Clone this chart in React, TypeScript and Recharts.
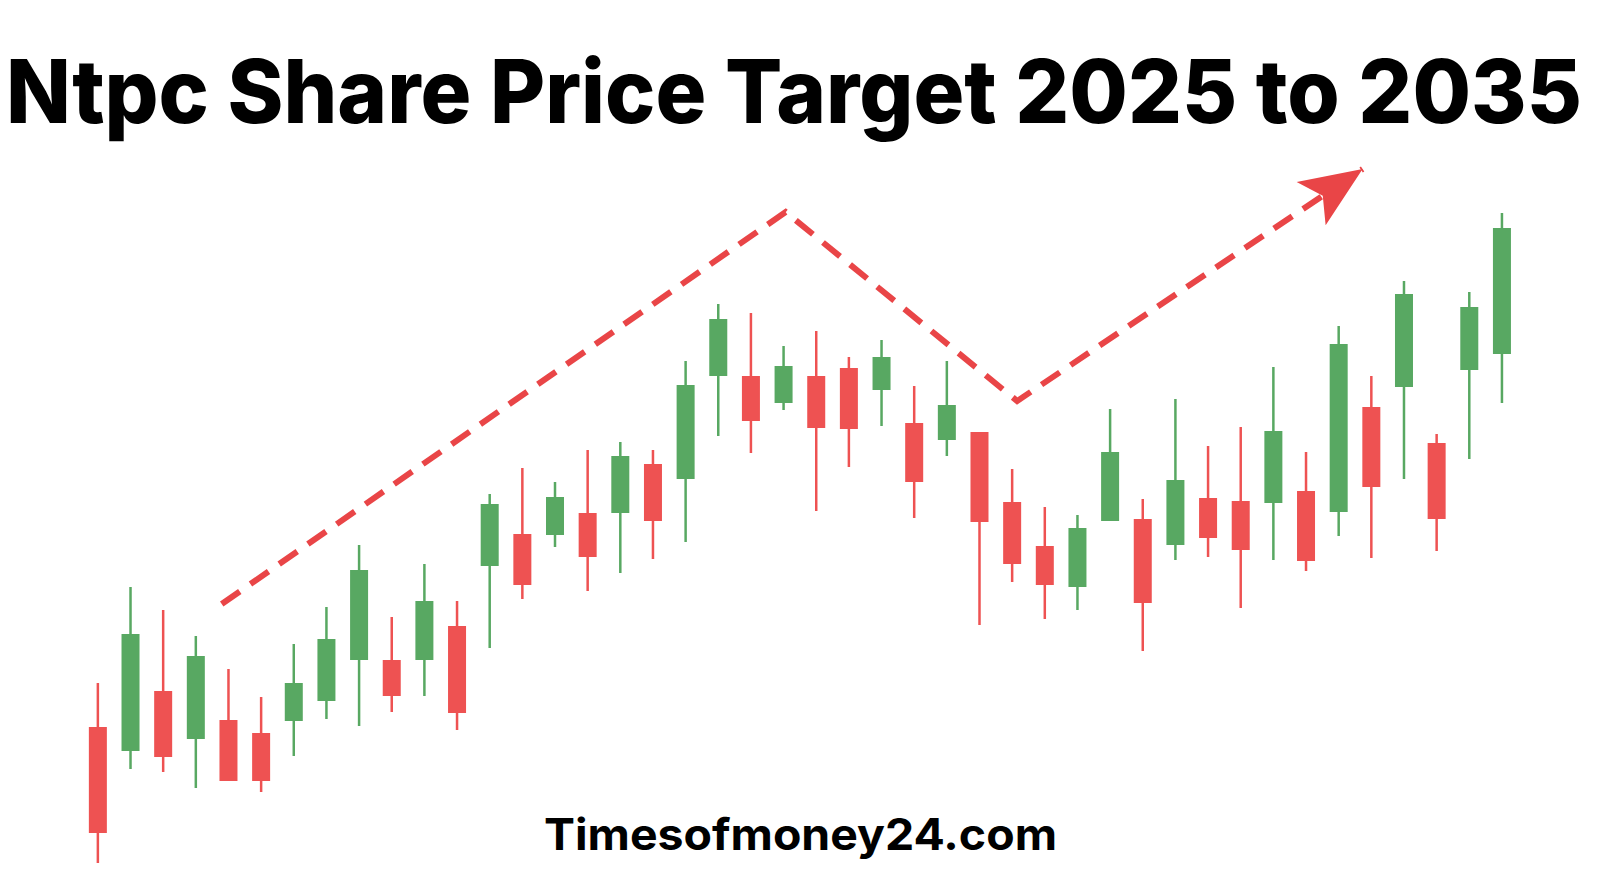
import React from "react";
import { ComposedChart, Bar, Line, XAxis, YAxis } from "recharts";

// candle values (arbitrary price units)
const opens = [173, 149, 209, 161, 180, 167, 179, 199, 240, 240, 240, 274, 334, 366, 365, 387, 387, 436, 421, 524, 524, 497, 524, 532, 510, 477, 460, 468, 398, 354, 313, 379, 381, 355, 402, 399, 397, 409, 388, 493, 513, 457, 530, 546];
const highs = [217, 313, 290, 264, 231, 203, 256, 293, 355, 283, 336, 299, 406, 432, 418, 450, 458, 450, 539, 596, 587, 554, 569, 543, 560, 514, 539, 468, 431, 393, 385, 491, 401, 501, 454, 473, 533, 448, 574, 524, 619, 466, 608, 687];
const lows = [37, 131, 128, 112, 119, 108, 144, 181, 174, 188, 204, 170, 252, 301, 353, 309, 327, 341, 358, 464, 447, 490, 389, 433, 474, 382, 444, 275, 318, 281, 290, 379, 249, 340, 343, 292, 340, 329, 364, 342, 421, 349, 441, 497];
const closes = [67, 266, 143, 244, 119, 119, 217, 261, 330, 204, 299, 187, 396, 315, 403, 343, 444, 379, 515, 581, 479, 534, 472, 471, 543, 418, 495, 378, 336, 315, 372, 448, 297, 420, 362, 350, 469, 339, 556, 413, 606, 381, 593, 672];

// dashed trend arrow (x in candle index units)
const trendI = [3.79, 21.06, 28.15, 38.73];
const trendV = [296, 688, 499, 731];

const TITLE = "Ntpc Share Price Target 2025 to 2035";
const FOOTER = "Timesofmoney24.com";

const GREEN = "#58a862";
const RED = "#ee5252";
const ARROW = "#e94547";
const BODY_W = 18;

const candles = opens.map((o, i) => ({
  i,
  o,
  h: highs[i],
  l: lows[i],
  c: closes[i],
  range: [lows[i], highs[i]],
}));

const trend = trendI.map((i, k) => ({ i, v: trendV[k] }));

const Candle = (props: any) => {
  const { x, y, width, height, index } = props;
  const d = candles[index];
  const top = Math.min(y, y + height);
  const px = Math.abs(height);
  const k = px / (d.h - d.l);
  const yO = top + (d.h - d.o) * k;
  const yC = top + (d.h - d.c) * k;
  const color = d.c >= d.o ? GREEN : RED;
  const cx = x + (width || 0) / 2;
  return (
    <g>
      <line x1={cx} x2={cx} y1={top} y2={top + px} stroke={color} strokeWidth={2.5} />
      <rect
        x={cx - BODY_W / 2}
        y={Math.min(yO, yC)}
        width={BODY_W}
        height={Math.max(Math.abs(yC - yO), 1)}
        fill={color}
      />
    </g>
  );
};

// arrow head on the last point, pointing along the last segment
let prevDot = { x: 0, y: 0 };
const ArrowDot = (p: any) => {
  const { cx, cy, index } = p;
  if (index < trend.length - 1) {
    prevDot = { x: cx, y: cy };
    return <g key={`d${index}`} />;
  }
  const a = Math.atan2(cy - prevDot.y, cx - prevDot.x);
  const c = Math.cos(a);
  const s = Math.sin(a);
  const pt = (u: number, w: number) => `${cx + u * c - w * s},${cy + u * s + w * c}`;
  return (
    <polygon
      key={`d${index}`}
      points={[pt(0, 0), pt(-62, -26), pt(-48, 0), pt(-62, 26)].join(" ")}
      fill={ARROW}
    />
  );
};

export default function App() {
  return (
    <div style={{ position: "absolute", left: 0, top: 0, width: 1600, height: 896, background: "#fff" }}>
      <ComposedChart
        width={1600}
        height={896}
        data={candles}
        margin={{ top: 0, right: 0, bottom: 0, left: 0 }}
      >
        <XAxis dataKey="i" type="number" domain={[-3, 46]} hide allowDataOverflow />
        <YAxis type="number" domain={[4, 900]} hide allowDataOverflow />
        <Line
          data={trend}
          dataKey="v"
          type="linear"
          stroke={ARROW}
          strokeWidth={6}
          strokeDasharray="22 13"
          dot={ArrowDot}
          activeDot={false}
          isAnimationActive={false}
        />
        <Bar dataKey="range" barSize={BODY_W} shape={Candle} isAnimationActive={false} />
      </ComposedChart>
      <svg
        width={1600}
        height={896}
        style={{ position: "absolute", left: 0, top: 0, pointerEvents: "none" }}
      >
        <text
          x={6}
          y={123}
          fontFamily="Inter, 'Noto Sans', sans-serif"
          fontWeight={800}
          fontSize={88}
          fill="#000"
          textLength={1576}
          lengthAdjust="spacingAndGlyphs"
        >
          {TITLE}
        </text>
        <text
          x={544}
          y={850}
          fontFamily="Inter, 'Noto Sans', sans-serif"
          fontWeight={700}
          fontSize={44}
          fill="#000"
          textLength={513}
          lengthAdjust="spacingAndGlyphs"
        >
          {FOOTER}
        </text>
      </svg>
    </div>
  );
}
